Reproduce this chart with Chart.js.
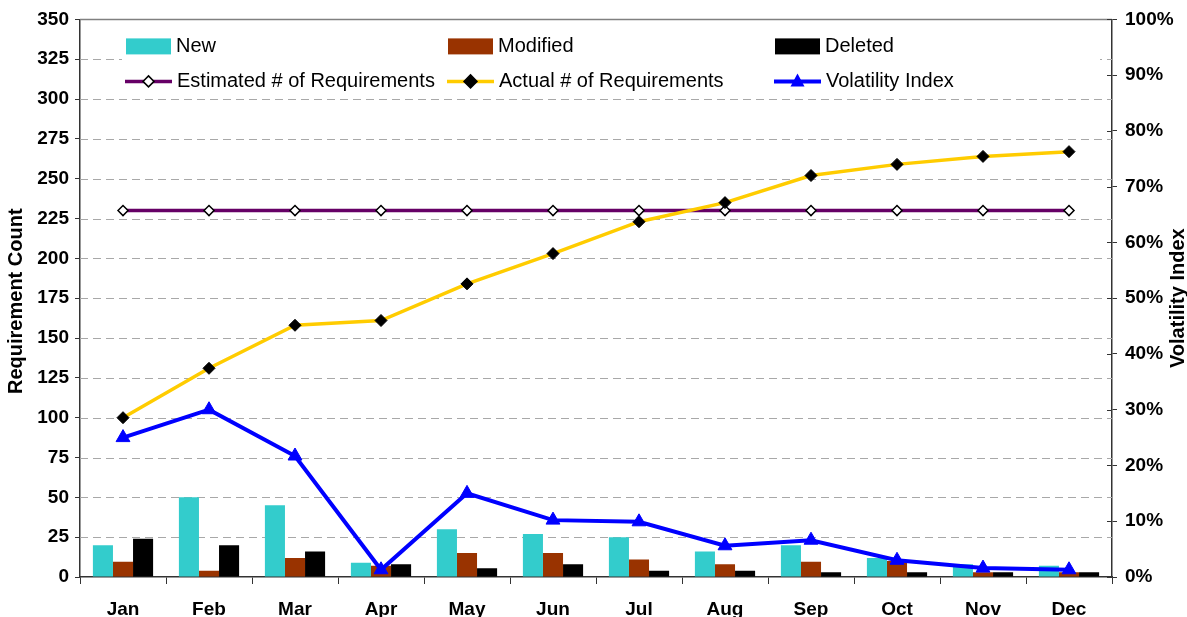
<!DOCTYPE html>
<html>
<head>
<meta charset="utf-8">
<script src="https://cdn.jsdelivr.net/npm/chart.js@4.4.1/dist/chart.umd.min.js"></script>
<style>
  html, body { margin: 0; padding: 0; background: #fff; }
  #wrap { width: 1187px; height: 617px; }
</style>
</head>
<body>
<div id="wrap"><canvas id="chart" width="1187" height="617"></canvas></div>
<script>
const months = ['Jan', 'Feb', 'Mar', 'Apr', 'May', 'Jun', 'Jul', 'Aug', 'Sep', 'Oct', 'Nov', 'Dec'];

// requirement counts per month
const newReqs = [20, 50, 45, 9, 30, 27, 25, 16, 20, 12, 8, 7];
const modifiedReqs = [9.5, 4, 12, 7, 15, 15, 11, 8, 9.5, 10, 3, 3];
const deletedReqs = [24, 20, 16, 8, 5.5, 8, 4, 4, 3, 3, 3, 3];
const estimatedReqs = [230, 230, 230, 230, 230, 230, 230, 230, 230, 230, 230, 230];
const actualReqs = [100, 131, 158, 161, 184, 203, 223, 235, 252, 259, 264, 267];

// volatility index in percent
const volatility = [25, 30, 21.7, 1.3, 15, 10.2, 9.9, 5.6, 6.6, 3, 1.6, 1.3];

const leftTicks = { min: 0, max: 350, step: 25 };
const rightTicks = { min: 0, max: 100, step: 10 };

const FONT = '"Liberation Sans", Arial, sans-serif';
const AXIS = '#333333';

// dashed grid, top border, inner ticks on the right axis, legend box, axis titles
const decorPlugin = {
  id: 'decor',
  beforeDatasetsDraw(chart) {
    const { ctx, chartArea } = chart;
    const y = chart.scales.y;
    const y1 = chart.scales.y1;
    ctx.save();
    ctx.strokeStyle = '#a8a8a8';
    ctx.lineWidth = 1;
    ctx.setLineDash([8, 5]);
    for (let v = leftTicks.step; v < leftTicks.max; v += leftTicks.step) {
      const py = Math.round(y.getPixelForValue(v)) + 0.5;
      ctx.beginPath();
      ctx.moveTo(chartArea.left, py);
      ctx.lineTo(chartArea.right, py);
      ctx.stroke();
    }
    ctx.setLineDash([]);
    ctx.strokeStyle = '#808080';
    ctx.lineWidth = 1.5;
    ctx.beginPath();
    ctx.moveTo(chartArea.left, chartArea.top);
    ctx.lineTo(chartArea.right, chartArea.top);
    ctx.stroke();

    ctx.strokeStyle = AXIS;
    ctx.lineWidth = 1;
    for (let v = rightTicks.min; v <= rightTicks.max; v += rightTicks.step) {
      const py = Math.round(y1.getPixelForValue(v)) + 0.5;
      ctx.beginPath();
      ctx.moveTo(chartArea.right - 5, py);
      ctx.lineTo(chartArea.right, py);
      ctx.stroke();
    }
    ctx.restore();
  },
  afterDatasetsDraw(chart) {
    const { ctx, chartArea } = chart;
    const L = chartArea.left;
    const T = chartArea.top;
    ctx.save();
    ctx.fillStyle = '#ffffff';
    ctx.fillRect(L + 42, T + 10, 978, 66);

    const cols = [L + 46, L + 368, L + 695];
    const row1 = T + 27;
    const row2 = T + 62;
    const bars = [['New', '#33CCCC'], ['Modified', '#993300'], ['Deleted', '#000000']];
    ctx.font = '20px ' + FONT;
    ctx.textBaseline = 'middle';
    bars.forEach((b, i) => {
      ctx.fillStyle = b[1];
      ctx.fillRect(cols[i], row1 - 8, 45, 16);
      ctx.fillStyle = '#000';
      ctx.fillText(b[0], cols[i] + 50, row1);
    });

    const lines = [
      ['Estimated # of Requirements', '#660066', 'diamondOpen'],
      ['Actual # of Requirements', '#FFCC00', 'diamond'],
      ['Volatility Index', '#0000FF', 'triangle']
    ];
    lines.forEach((l, i) => {
      const x0 = cols[i] - 1;
      ctx.strokeStyle = l[1];
      ctx.lineWidth = l[2] === 'triangle' ? 4 : 3.5;
      ctx.beginPath();
      ctx.moveTo(x0, row2);
      ctx.lineTo(x0 + 47, row2);
      ctx.stroke();
      const cx = x0 + 23.5;
      if (l[2] === 'triangle') {
        ctx.fillStyle = '#0000FF';
        ctx.beginPath();
        ctx.moveTo(cx, row2 - 8);
        ctx.lineTo(cx + 7, row2 + 5);
        ctx.lineTo(cx - 7, row2 + 5);
        ctx.closePath();
        ctx.fill();
      } else {
        const r = l[2] === 'diamond' ? 6.5 : 5.5;
        ctx.beginPath();
        ctx.moveTo(cx, row2 - r);
        ctx.lineTo(cx + r, row2);
        ctx.lineTo(cx, row2 + r);
        ctx.lineTo(cx - r, row2);
        ctx.closePath();
        ctx.fillStyle = l[2] === 'diamond' ? '#000' : '#fff';
        ctx.fill();
        ctx.strokeStyle = '#000';
        ctx.lineWidth = 1.5;
        ctx.stroke();
      }
      ctx.fillStyle = '#000';
      ctx.fillText(l[0], x0 + 52, row2);
    });
    ctx.restore();
  },
  afterDraw(chart) {
    const { ctx, chartArea } = chart;
    const midY = (chartArea.top + chartArea.bottom) / 2;
    ctx.save();
    ctx.font = 'bold 20px ' + FONT;
    ctx.fillStyle = '#000';
    ctx.textAlign = 'center';
    ctx.textBaseline = 'middle';
    ctx.translate(16, midY + 3);
    ctx.rotate(-Math.PI / 2);
    ctx.fillText('Requirement Count', 0, 0);
    ctx.restore();

    ctx.save();
    ctx.font = 'bold 20px ' + FONT;
    ctx.fillStyle = '#000';
    ctx.textAlign = 'center';
    ctx.textBaseline = 'middle';
    ctx.translate(1178, midY);
    ctx.rotate(-Math.PI / 2);
    ctx.fillText('Volatility Index', 0, 0);
    ctx.restore();
  }
};

const tickFont = { family: FONT, size: 19, weight: 'bold' };

new Chart(document.getElementById('chart'), {
  type: 'bar',
  data: {
    labels: months,
    datasets: [
      { label: 'New', data: newReqs, backgroundColor: '#33CCCC', yAxisID: 'y', order: 3 },
      { label: 'Modified', data: modifiedReqs, backgroundColor: '#993300', yAxisID: 'y', order: 3 },
      { label: 'Deleted', data: deletedReqs, backgroundColor: '#000000', yAxisID: 'y', order: 3 },
      {
        type: 'line', label: 'Estimated # of Requirements', data: estimatedReqs, yAxisID: 'y', order: 2,
        borderColor: '#660066', borderWidth: 3.5, pointStyle: 'rectRot', pointRadius: 5,
        pointBackgroundColor: '#ffffff', pointBorderColor: '#000000', pointBorderWidth: 1.5
      },
      {
        type: 'line', label: 'Actual # of Requirements', data: actualReqs, yAxisID: 'y', order: 1,
        borderColor: '#FFCC00', borderWidth: 3.5, pointStyle: 'rectRot', pointRadius: 6,
        pointBackgroundColor: '#000000', pointBorderColor: '#000000', pointBorderWidth: 1
      },
      {
        type: 'line', label: 'Volatility Index', data: volatility, yAxisID: 'y1', order: 0,
        borderColor: '#0000FF', borderWidth: 4, pointStyle: 'triangle', pointRadius: 8,
        pointBackgroundColor: '#0000FF', pointBorderColor: '#0000FF', pointBorderWidth: 1
      }
    ]
  },
  options: {
    responsive: false,
    animation: false,
    events: [],
    layout: { padding: { top: 19, left: 0, right: 0, bottom: -4 } },
    datasets: {
      bar: { categoryPercentage: 0.7, barPercentage: 1.0, borderWidth: 0 }
    },
    plugins: {
      legend: { display: false },
      title: { display: false },
      tooltip: { enabled: false }
    },
    scales: {
      x: {
        offset: true,
        grid: { display: true, drawOnChartArea: false, offset: true, tickLength: 7, color: AXIS },
        border: { color: AXIS, width: 1.5 },
        ticks: { font: tickFont, color: '#000', padding: 14, maxRotation: 0 },
        afterFit(scale) { scale.height = 44; }
      },
      y: {
        position: 'left',
        min: leftTicks.min,
        max: leftTicks.max,
        grid: { drawOnChartArea: false, tickLength: 5, color: AXIS },
        border: { color: AXIS, width: 1.5 },
        ticks: { stepSize: leftTicks.step, font: tickFont, color: '#000', padding: 6 },
        afterFit(scale) { scale.width = 80; }
      },
      y1: {
        position: 'right',
        min: rightTicks.min,
        max: rightTicks.max,
        grid: { drawOnChartArea: false, tickLength: 5, color: AXIS },
        border: { color: AXIS, width: 1.5 },
        ticks: { stepSize: rightTicks.step, font: tickFont, color: '#000', padding: 8,
          callback: (v) => v + '%' },
        afterFit(scale) { scale.width = 75; }
      }
    }
  },
  plugins: [decorPlugin]
});
</script>
</body>
</html>
